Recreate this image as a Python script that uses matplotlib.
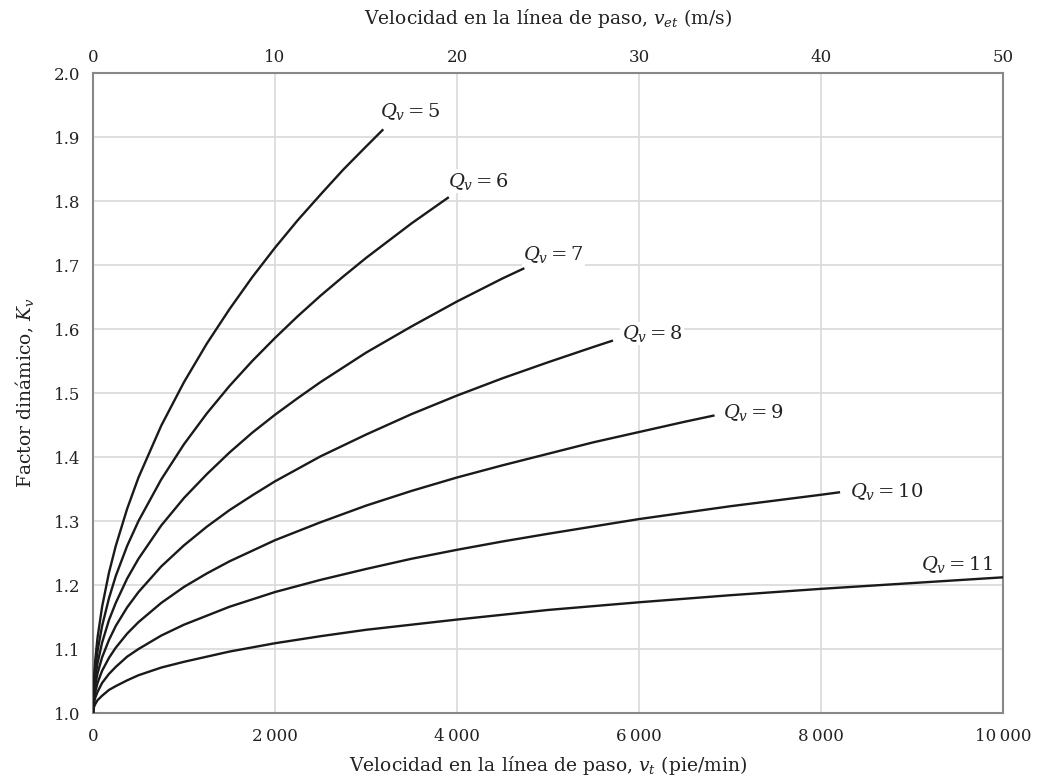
import matplotlib
matplotlib.use("Agg")
import matplotlib.pyplot as plt

# Dynamic factor curves (pitch-line velocity in ft/min, Kv) per quality number Qv,
# values
qv5_v = [0, 10, 25, 50, 100, 175, 250, 375, 500, 750, 1000, 1250, 1500, 1750, 2000, 2250,
         2500, 2750, 3000, 3190]
qv5_k = [1.0, 1.053, 1.083, 1.118, 1.166, 1.219, 1.261, 1.319, 1.368, 1.449, 1.517, 1.577,
         1.631, 1.681, 1.727, 1.770, 1.810, 1.849, 1.885, 1.912]

qv6_v = [0, 10, 25, 50, 100, 175, 250, 375, 500, 750, 1000, 1250, 1500, 1750, 2000, 2250,
         2500, 2750, 3000, 3250, 3500, 3750, 3910]
qv6_k = [1.0, 1.043, 1.069, 1.097, 1.136, 1.179, 1.214, 1.261, 1.300, 1.365, 1.420, 1.468,
         1.511, 1.550, 1.586, 1.620, 1.652, 1.682, 1.711, 1.738, 1.765, 1.790, 1.806]

qv7_v = [0, 10, 25, 50, 100, 175, 250, 375, 500, 750, 1000, 1250, 1500, 1750, 2000, 2250,
         2500, 3000, 3500, 4000, 4500, 4740]
qv7_k = [1.0, 1.035, 1.056, 1.078, 1.110, 1.145, 1.172, 1.210, 1.241, 1.293, 1.336, 1.373,
         1.407, 1.438, 1.466, 1.492, 1.517, 1.563, 1.604, 1.643, 1.679, 1.695]

qv8_v = [0, 10, 25, 50, 100, 175, 250, 375, 500, 750, 1000, 1250, 1500, 1750, 2000, 2500,
         3000, 3500, 4000, 4500, 5000, 5500, 5714]
qv8_k = [1.0, 1.028, 1.044, 1.062, 1.087, 1.114, 1.136, 1.165, 1.189, 1.229, 1.262, 1.291,
         1.317, 1.340, 1.362, 1.401, 1.435, 1.467, 1.496, 1.523, 1.548, 1.572, 1.582]

qv9_v = [0, 10, 25, 50, 100, 175, 250, 375, 500, 750, 1000, 1250, 1500, 2000, 2500, 3000,
         3500, 4000, 4500, 5000, 5500, 6000, 6500, 6830]
qv9_k = [1.0, 1.021, 1.033, 1.047, 1.066, 1.086, 1.102, 1.124, 1.142, 1.172, 1.197, 1.218,
         1.237, 1.270, 1.298, 1.324, 1.347, 1.368, 1.387, 1.405, 1.423, 1.439, 1.455, 1.465]

qv10_v = [0, 10, 25, 50, 100, 175, 250, 375, 500, 750, 1000, 1500, 2000, 2500, 3000, 3500,
          4000, 4500, 5000, 6000, 7000, 8000, 8210]
qv10_k = [1.0, 1.015, 1.024, 1.033, 1.047, 1.061, 1.072, 1.088, 1.100, 1.121, 1.138, 1.166,
          1.189, 1.208, 1.225, 1.241, 1.255, 1.268, 1.280, 1.303, 1.323, 1.341, 1.345]

qv11_v = [0, 10, 25, 50, 100, 175, 250, 375, 500, 750, 1000, 1500, 2000, 2500, 3000, 4000,
          5000, 6000, 7000, 8000, 9000, 10000]
qv11_k = [1.0, 1.009, 1.014, 1.020, 1.027, 1.036, 1.042, 1.051, 1.059, 1.071, 1.080, 1.096,
          1.109, 1.120, 1.130, 1.146, 1.161, 1.173, 1.184, 1.194, 1.203, 1.212]

curve_labels = [r"$Q_v = 5$", r"$Q_v = 6$", r"$Q_v = 7$", r"$Q_v = 8$",
                r"$Q_v = 9$", r"$Q_v = 10$", r"$Q_v = 11$"]
label_x = [3150, 3900, 4725, 5810, 6920, 8320, 9890]
label_y = [1.940, 1.831, 1.717, 1.593, 1.470, 1.346, 1.232]
label_ha = ["left"] * 6 + ["right"]

x_ticks = [0, 2000, 4000, 6000, 8000, 10000]
x_ticklabels = ["0", "2\u2009000", "4\u2009000", "6\u2009000", "8\u2009000", "10\u2009000"]
top_ticks = [0, 10, 20, 30, 40, 50]
y_ticks = [1.0, 1.1, 1.2, 1.3, 1.4, 1.5, 1.6, 1.7, 1.8, 1.9, 2.0]

plt.rcParams['font.family'] = ['DejaVu Serif']
plt.rcParams['mathtext.fontset'] = 'dejavuserif'
fs_tick = 12
fs_lab = 13.5
fs_curve = 14
txt_col = "#222222"

fig = plt.figure(figsize=(10.41, 7.81), dpi=100)
ax = fig.add_axes([93 / 1041, 68 / 781, 910 / 1041, 640 / 781])

curves = [(qv5_v, qv5_k), (qv6_v, qv6_k), (qv7_v, qv7_k), (qv8_v, qv8_k),
          (qv9_v, qv9_k), (qv10_v, qv10_k), (qv11_v, qv11_k)]
for (vv, kk) in curves:
    ax.plot(vv, kk, color="#1a1a1a", lw=1.7, solid_capstyle="butt",
            solid_joinstyle="round", zorder=3)

for txt, lx, ly, ha in zip(curve_labels, label_x, label_y, label_ha):
    ax.text(lx, ly, txt, ha=ha, va="center", fontsize=fs_curve, color=txt_col, zorder=4,
            bbox=dict(facecolor="white", edgecolor="none", pad=1.0))

ax.set_xlim(0, 10000)
ax.set_ylim(1.0, 2.0)
ax.set_xticks(x_ticks)
ax.set_xticklabels(x_ticklabels)
ax.set_yticks(y_ticks)
ax.set_yticklabels([f"{t:.1f}" for t in y_ticks])
ax.tick_params(length=0, labelsize=fs_tick, colors=txt_col)
ax.tick_params(axis="y", pad=9)
ax.tick_params(axis="x", pad=11)
ax.grid(True, color="#d9d9d9", lw=1.2, zorder=0)
ax.set_axisbelow(True)
for s in ax.spines.values():
    s.set_color("#888888")
    s.set_linewidth(1.5)

ax.set_xlabel("Velocidad en la línea de paso, $v_t$ (pie/min)", fontsize=fs_lab,
              color=txt_col, labelpad=6)
ax.set_ylabel("Factor dinámico, $K_v$", fontsize=fs_lab, color=txt_col, labelpad=13)

sec = ax.secondary_xaxis("top", functions=(lambda x: x / 200.0, lambda x: x * 200.0))
sec.set_xticks(top_ticks)
sec.set_xticklabels([str(t) for t in top_ticks])
sec.tick_params(length=0, labelsize=fs_tick, colors=txt_col, pad=5)
sec.spines["top"].set_visible(False)
sec.set_xlabel("Velocidad en la línea de paso, $v_{et}$ (m/s)", fontsize=fs_lab,
               color=txt_col, labelpad=18)

fig.savefig("out.png", dpi=100)
